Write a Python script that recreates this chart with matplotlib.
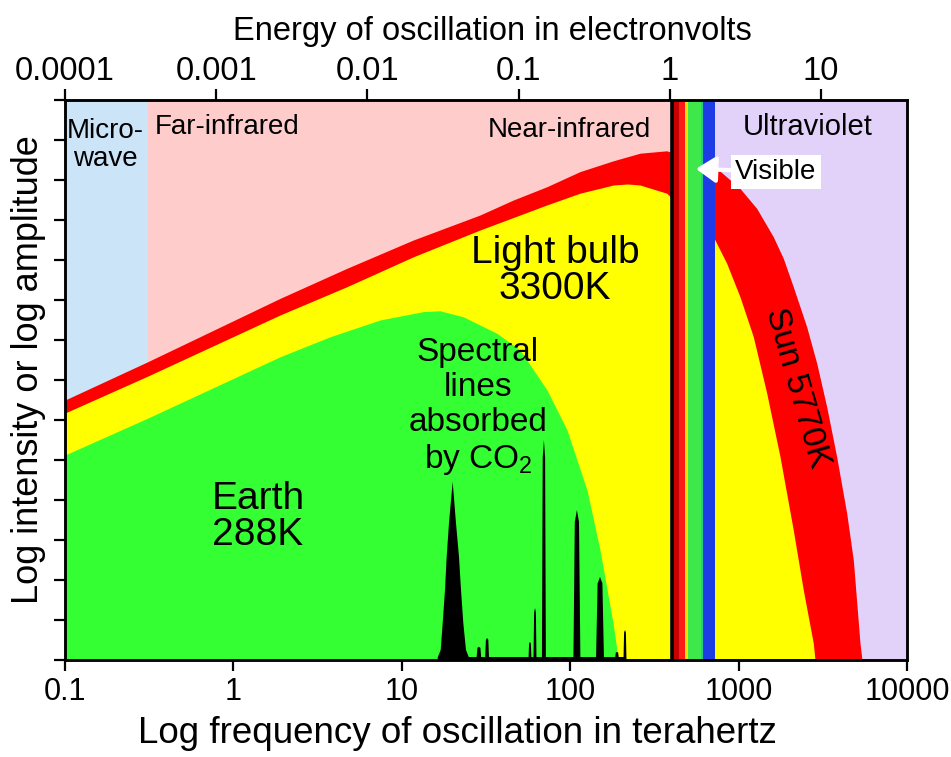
import numpy as np
import matplotlib
matplotlib.use('Agg')
import matplotlib.pyplot as plt

plt.rcParams['font.family'] = ['Liberation Sans', 'DejaVu Sans']
plt.rcParams['mathtext.fontset'] = 'custom'
plt.rcParams['mathtext.rm'] = 'Liberation Sans'
plt.rcParams['mathtext.it'] = 'Liberation Sans:italic'

# ---------------- data (frequency in THz, log amplitude in tick units) ----------------
sun_freq = [0.1, 0.311, 1.891, 4.708, 11.70, 29.13, 45.93, 72.51, 114.3, 180.3, 259.7, 374.1,
            724, 1019, 1281, 1607, 1843, 2112, 2537, 2910, 3336, 3824, 4384, 4800, 5259, 5405]
sun_amp = [6.5, 7.46, 9.04, 9.79, 10.5, 11.125, 11.5, 11.83, 12.21, 12.48, 12.67, 12.73,
           12.33, 11.79, 11.29, 10.58, 10.04, 9.33, 8.33, 7.42, 6.33, 5.08, 3.67, 2.5, 0.42, 0.0]

bulb_freq = [0.1, 0.311, 1.891, 4.708, 11.70, 29.13, 72.51, 114.3, 180.3, 220, 259.7, 374.1,
             724, 849, 1019, 1223, 1469, 1762, 2112, 2422, 2777, 2843]
bulb_amp = [6.175, 7.1, 8.625, 9.33, 10.08, 10.75, 11.375, 11.67, 11.875, 11.9, 11.875, 11.67,
            10.5, 9.92, 9.08, 8.08, 6.67, 5.08, 3.25, 1.75, 0.42, 0.0]

earth_freq = [0.1, 0.311, 1.891, 3.747, 7.42, 13.42, 16.86, 23.19, 36.60, 50.33,
              72.81, 95.72, 125.8, 150.3, 179.6, 192.3, 194.9]
earth_amp = [5.125, 6.05, 7.58, 8.08, 8.5, 8.71, 8.73, 8.58, 8.17, 7.75,
             6.75, 5.75, 4.25, 2.75, 0.925, 0.05, 0.0]

co2_band_freq = [16.25, 17.02, 17.49, 18.05, 18.47, 19.06, 20.05, 20.98, 21.86, 22.47, 23.19, 24.06, 25.17]
co2_band_amp = [0.04, 0.25, 0.92, 1.75, 2.58, 3.42, 4.46, 3.42, 2.58, 1.75, 0.92, 0.25, 0.04]

co2_line_freq = [28.7, 32.1, 57.7, 61.8, 69.8, 109.6, 150.3, 189.6, 211.5]
co2_line_amp = [0.33, 0.55, 0.45, 1.3, 5.5, 3.75, 2.08, 0.2, 0.75]
co2_baseline_freq = [16.3, 215.0]
co2_baseline_amp = [0.07, 0.07]

region_edges = [0.1, 0.311, 400, 725, 10000]      # microwave | infrared | visible | ultraviolet
visible_edges = [400, 440, 481, 501, 600, 615, 725]

freq_ticks = [0.1, 1, 10, 100, 1000, 10000]
freq_tick_labels = ['0.1', '1', '10', '100', '1000', '10000']
ev_ticks = [0.0001, 0.001, 0.01, 0.1, 1, 10]
ev_tick_labels = ['0.0001', '0.001', '0.01', '0.1', '1', '10']
ev_limits = [0.0001, 37.1]
amp_ticks = list(range(0, 15))

# ---------------- styles ----------------
region_colors = ['#CCE4F8', '#FFCCCC', None, '#E2D2FA']
visible_colors = ['#C80000', '#FF1A1A', '#FFE000', '#3FE84A', '#22D08A', '#1E3CE6']
line_halfwidth_px = [2.5, 2.0, 1.5, 1.5, 2.0, 3.5, 4.0, 2.0, 1.5]
px_per_decade = 168.4

fig = plt.figure(figsize=(9.51, 7.57), dpi=100)
ax = fig.add_axes([65 / 951, 97 / 757, 842 / 951, 560 / 757])
ax.set_xscale('log')
ax.set_xlim(0.1, 10000)
ax.set_ylim(0, 14)

for i, c in enumerate(region_colors):
    if c is not None:
        ax.axvspan(region_edges[i], region_edges[i + 1], color=c, lw=0, zorder=0)

ax.fill_between(sun_freq, 0, sun_amp, color='#FF0000', lw=0, zorder=2)
ax.fill_between(bulb_freq, 0, bulb_amp, color='#FFFF00', lw=0, zorder=3)
ax.fill_between(earth_freq, 0, earth_amp, color='#33FF33', lw=0, zorder=4)

# CO2 absorption
ax.fill(co2_band_freq, co2_band_amp, color='black', lw=0, zorder=5)
ax.fill_between(co2_baseline_freq, 0, co2_baseline_amp, color='black', lw=0, zorder=5)
for f, a, hw in zip(co2_line_freq, co2_line_amp, line_halfwidth_px):
    w = hw / px_per_decade
    xs = [f * 10 ** (-w), f * 10 ** (-0.6 * w), f, f * 10 ** (0.6 * w), f * 10 ** w]
    ys = [0, 0.92 * a, a, 0.92 * a, 0]
    ax.fill(xs, ys, color='black', lw=0, zorder=5)

# visible band
for i, c in enumerate(visible_colors):
    ax.axvspan(visible_edges[i], visible_edges[i + 1], color=c, lw=0, zorder=6)
ax.axvline(visible_edges[0], color='black', lw=2.6, zorder=7)

# axes styling
for s in ax.spines.values():
    s.set_linewidth(1.8)
    s.set_zorder(10)
ax.set_xticks(freq_ticks)
ax.set_xticklabels(freq_tick_labels, fontsize=22)
ax.xaxis.set_minor_locator(matplotlib.ticker.NullLocator())
ax.set_yticks(amp_ticks)
ax.set_yticklabels([])
ax.tick_params(axis='both', which='major', direction='out', length=8, width=1.6, pad=4)
ax.set_xlabel('Log frequency of oscillation in terahertz', fontsize=26.5)
ax.xaxis.set_label_coords(0.466, -0.10)
ax.set_ylabel('Log intensity or log amplitude', fontsize=26)
ax.yaxis.set_label_coords(-0.022, 0.518)

ax2 = ax.twiny()
ax2.set_xscale('log')
ax2.set_xlim(*ev_limits)
ax2.set_xticks(ev_ticks)
ax2.set_xticklabels(ev_tick_labels, fontsize=23.5)
ax2.xaxis.set_minor_locator(matplotlib.ticker.NullLocator())
ax2.tick_params(axis='x', direction='out', length=8, width=1.6, pad=1)
ax2.set_xlabel('Energy of oscillation in electronvolts', fontsize=23.5)
ax2.xaxis.set_label_coords(0.507, 1.108)
for s in ax2.spines.values():
    s.set_linewidth(1.8)

# labels
ax.text(0.173, 12.875, 'Micro-\nwave', fontsize=20, ha='center', va='center',
        linespacing=1.05, zorder=12)
ax.text(0.342, 13.33, 'Far-infrared', fontsize=20, ha='left', va='center', zorder=12)
ax.text(302, 13.25, 'Near-infrared', fontsize=20, ha='right', va='center', zorder=12)
ax.text(2582, 13.33, 'Ultraviolet', fontsize=21, ha='center', va='center', zorder=12)
ax.annotate('Visible', xy=(558, 12.28), xytext=(1667, 12.2), fontsize=20,
            ha='center', va='center', zorder=12,
            bbox=dict(boxstyle='square,pad=0.15', fc='white', ec='none'),
            arrowprops=dict(arrowstyle='-|>,head_length=0.6,head_width=0.4', color='white',
                            lw=3.0, shrinkA=0, shrinkB=0, mutation_scale=20))
ax.text(81.3, 9.73, 'Light bulb\n3300K', fontsize=28, ha='center', va='center',
        linespacing=1.0, zorder=12)
ax.text(28.3, 6.33, 'Spectral\nlines\nabsorbed\nby CO$_\\mathregular{2}$', fontsize=24,
        ha='center', va='center', linespacing=1.17, zorder=12)
ax.text(1.40, 3.58, 'Earth\n288K', fontsize=28, ha='center', va='center',
        linespacing=1.0, zorder=12)
ax.text(2213, 6.79, 'Sun 5770K', fontsize=24, ha='center', va='center',
        rotation=-74, rotation_mode='anchor', zorder=12)

fig.savefig('out.png', dpi=100)
